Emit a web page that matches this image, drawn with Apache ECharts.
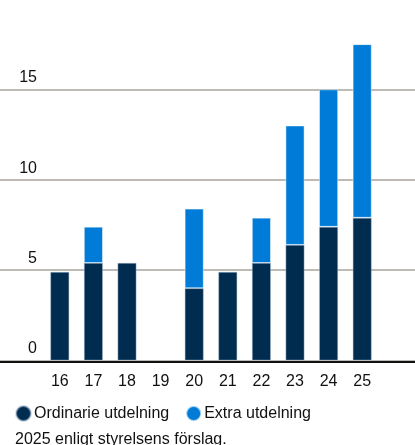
<!DOCTYPE html>
<html>
<head>
<meta charset="utf-8">
<script src="https://cdn.jsdelivr.net/npm/echarts@6/dist/echarts.min.js"></script>
<style>
  html, body { margin: 0; padding: 0; background: #fff; }
  #chart { width: 415px; height: 445px; }
</style>
</head>
<body>
<div id="chart"></div>
<script>
// Dividend per share by year (two-digit year labels)
const years = ['16', '17', '18', '19', '20', '21', '22', '23', '24', '25'];
const ordinary = [4.9, 5.4, 5.4, null, 4.0, 4.9, 5.4, 6.4, 7.4, 7.9];
const extra = [null, 2.0, null, null, 4.4, null, 2.5, 6.6, 7.6, 9.6];
const yTicks = { min: 0, max: 19.5, interval: 5 };

const DARK = '#002c4f';
const BLUE = '#007cd8';
const FONT = '"Liberation Sans", Arial, sans-serif';

const chart = echarts.init(document.getElementById('chart'), null, { renderer: 'canvas' });

const gridTop = 8.1;
const gridBottom = 84.5;

chart.setOption({
  animation: false,
  textStyle: { fontFamily: FONT },
  grid: [
    // full-width grid carrying the horizontal rules and value labels
    { left: 0, right: 0, top: gridTop, bottom: gridBottom },
    // grid holding the bars
    { left: 43, right: 36, top: gridTop, bottom: gridBottom }
  ],
  xAxis: [
    {
      gridIndex: 0, type: 'value', min: 0, max: 1,
      axisLine: { show: true, onZero: false, lineStyle: { color: '#111', width: 2 } },
      offset: 1.5,
      axisTick: { show: false }, axisLabel: { show: false }, splitLine: { show: false }
    },
    {
      gridIndex: 1, type: 'category', data: years,
      axisLine: { show: false }, axisTick: { show: false },
      axisLabel: {
        color: '#111', fontSize: 16, fontFamily: FONT, margin: 13, lineHeight: 16
      }
    }
  ],
  yAxis: [
    {
      gridIndex: 0, type: 'value',
      min: yTicks.min, max: yTicks.max, interval: yTicks.interval,
      axisLine: { show: false }, axisTick: { show: false },
      splitLine: {
        show: true, showMaxLine: false,
        lineStyle: { color: '#a9a49e', width: 1.5 }
      },
      axisLabel: {
        inside: true, align: 'right', verticalAlign: 'bottom',
        margin: 37, padding: [0, 0, 3.5, 0], lineHeight: 16,
        showMaxLabel: false,
        color: '#111', fontSize: 16, fontFamily: FONT
      }
    },
    {
      gridIndex: 1, type: 'value',
      min: yTicks.min, max: yTicks.max, interval: yTicks.interval,
      show: false, splitLine: { show: false }
    }
  ],
  legend: {
    left: 15, top: 405, padding: 0,
    icon: 'circle', itemWidth: 15, itemHeight: 15, itemGap: 16,
    textStyle: { color: '#111', fontSize: 16, fontFamily: FONT, padding: [0, 0, 0, -2] },
    data: ['Ordinarie utdelning', 'Extra utdelning']
  },
  graphic: [
    {
      type: 'text', left: 15, top: 432,
      style: {
        text: '2025 enligt styrelsens förslag.',
        fill: '#111', font: '16px ' + FONT
      }
    }
  ],
  series: [
    {
      name: 'Ordinarie utdelning', type: 'bar', stack: 'total',
      xAxisIndex: 1, yAxisIndex: 1, barWidth: 19,
      itemStyle: { color: DARK, borderColor: 'rgba(170,190,210,0.55)', borderWidth: 0.8 },
      data: ordinary
    },
    {
      name: 'Extra utdelning', type: 'bar', stack: 'total',
      xAxisIndex: 1, yAxisIndex: 1, barWidth: 19,
      itemStyle: { color: BLUE, borderColor: 'rgba(255,255,255,0.6)', borderWidth: 0.8 },
      data: extra
    }
  ]
});
</script>
</body>
</html>
